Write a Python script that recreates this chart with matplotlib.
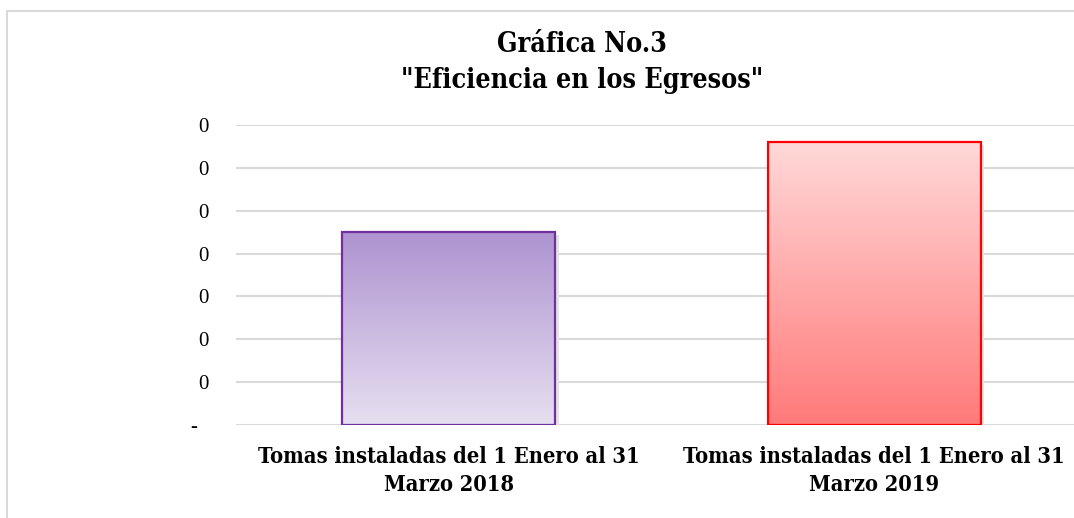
import matplotlib
matplotlib.use("Agg")
import matplotlib.pyplot as plt
import numpy as np
from matplotlib.patches import Rectangle
from matplotlib.ticker import FuncFormatter, MultipleLocator

# datos
categorias = ["Tomas instaladas del 1 Enero al 31\nMarzo 2018",
              "Tomas instaladas del 1 Enero al 31\nMarzo 2019"]
valores = [0.045, 0.066]
titulo = 'Gráfica No.3\n"Eficiencia en los Egresos"'

colores_arriba = ["#AE93D0", "#FFD8D8"]
colores_abajo = ["#E6DFF0", "#FF7A7A"]
bordes = ["#7030A0", "#FF0000"]

serif = ["Liberation Serif", "DejaVu Serif"]

fig = plt.figure(figsize=(10.74, 5.18), dpi=100)
ax = fig.add_axes([236/1074, 1-425/518, 851/1074, 300/518])

# marco del grafico
fig.patches.append(Rectangle((7.5/1074, -0.1), 1.2, 1-11.5/518+0.1,
                             transform=fig.transFigure, fill=False,
                             edgecolor="#D9D9D9", linewidth=1.5))

ancho = 0.5
x = np.arange(len(valores))
for i, v in enumerate(valores):
    # sombra
    ax.add_patch(Rectangle((x[i]-ancho/2+0.008, -0.0006), ancho, v,
                           facecolor="#E4E4E4", edgecolor="none", zorder=2))
    barra = ax.bar(x[i], v, width=ancho, color="none", edgecolor=bordes[i],
                   linewidth=1.6, zorder=4)[0]
    c1 = np.array(matplotlib.colors.to_rgb(colores_arriba[i]))
    c2 = np.array(matplotlib.colors.to_rgb(colores_abajo[i]))
    t = np.linspace(0, 1, 256)[:, None]
    grad = (c1[None, :]*(1-t) + c2[None, :]*t)[:, None, :]
    im = ax.imshow(grad, extent=[x[i]-ancho/2, x[i]+ancho/2, 0, v],
                   aspect="auto", origin="upper", zorder=3)
    im.set_clip_path(barra)

ax.set_xlim(-0.5, 1.5)
ax.set_ylim(0, 0.07)
ax.yaxis.set_major_locator(MultipleLocator(0.01))
ax.yaxis.set_major_formatter(FuncFormatter(lambda v, p: "-  " if abs(v) < 1e-9 else "0"))
ax.grid(axis="y", color="#D9D9D9", linewidth=1.5, zorder=0)
ax.set_axisbelow(True)
for s in ax.spines.values():
    s.set_visible(False)
ax.tick_params(axis="both", length=0)
ax.tick_params(axis="y", pad=20)
ax.set_xticks(x)
ax.set_xticklabels(categorias, fontsize=15.7, fontweight="bold",
                   family="DejaVu Serif", fontstretch="condensed",
                   linespacing=1.36)
ax.tick_params(axis="x", pad=15)
for lab in ax.get_yticklabels():
    lab.set_family(serif)
    lab.set_fontsize(15)

fig.text(582/1074, 1-62.5/518, titulo, ha="center", va="center", fontsize=19.3,
         fontweight="bold", family="DejaVu Serif", fontstretch="condensed",
         linespacing=1.4)

fig.savefig("out.png", dpi=100)
